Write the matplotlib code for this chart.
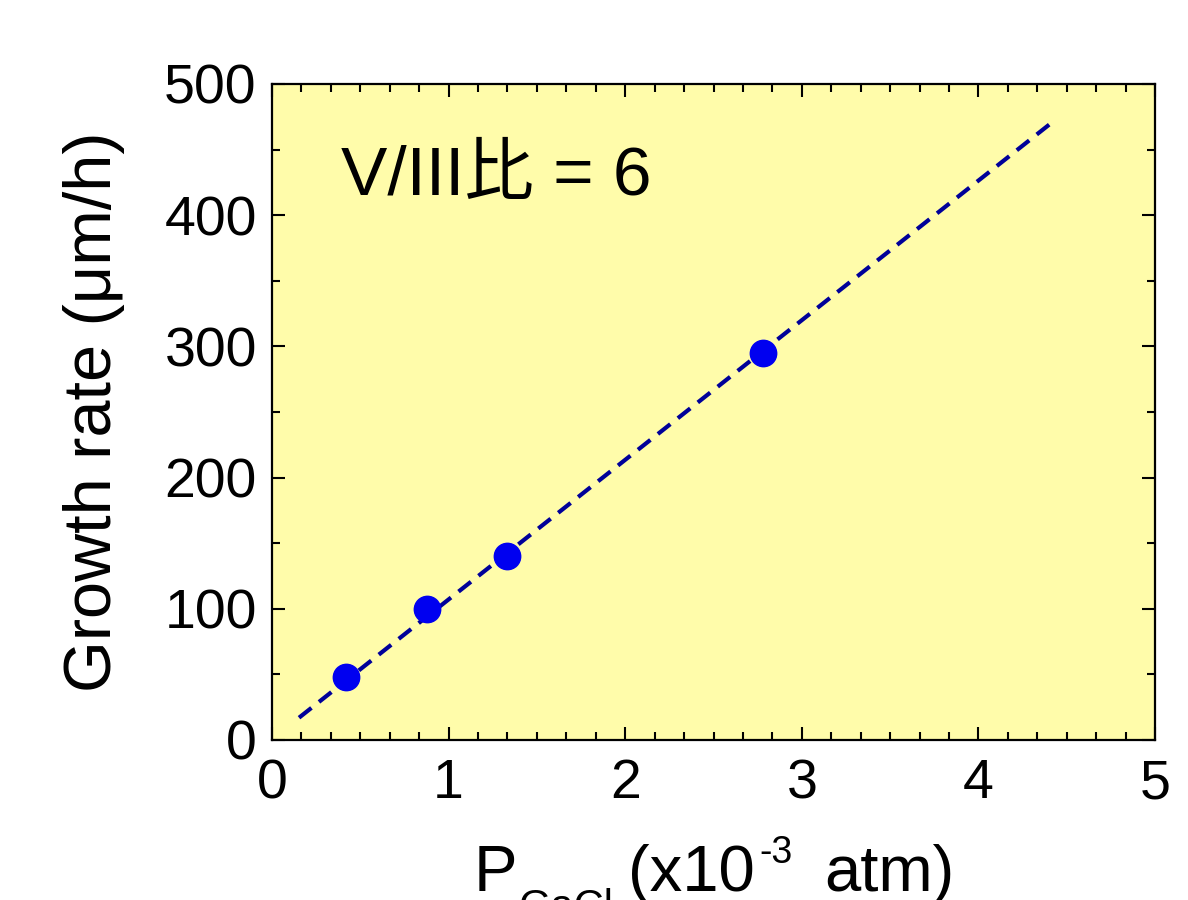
import matplotlib
matplotlib.use("Agg")
import matplotlib.pyplot as plt
from matplotlib.ticker import MultipleLocator

# data
p_gacl = [0.42, 0.88, 1.33, 2.78]
growth_rate = [48, 100, 140, 295]
fit_x = [0.153, 4.41]
fit_y = [17, 470]
x_ticks = [0, 1, 2, 3, 4, 5]
y_ticks = [0, 100, 200, 300, 400, 500]

plt.rcParams['font.family'] = ['Liberation Sans', 'Noto Sans CJK JP', 'DejaVu Sans']

W, H = 1188, 900
fig = plt.figure(figsize=(W / 100, H / 100), dpi=100)
ax = fig.add_axes([272 / W, 1 - 740 / H, (1155 - 272) / W, (740 - 84) / H])
ax.set_facecolor('#FFFCAA')

ax.plot(fit_x, fit_y, linestyle=(0, (3.8, 2.3)), color='#000099', linewidth=3.0, zorder=2)
ax.plot(p_gacl, growth_rate, 'o', color='#0000F0', markersize=19, zorder=3)

ax.set_xlim(0, 5)
ax.set_ylim(0, 500)
ax.set_xticks(x_ticks)
ax.set_yticks(y_ticks)
ax.xaxis.set_minor_locator(MultipleLocator(1 / 6))
ax.yaxis.set_minor_locator(MultipleLocator(50))
ax.tick_params(which='both', direction='in', top=True, right=True, width=1.5)
ax.tick_params(which='major', length=9.5)
ax.tick_params(which='minor', length=5.5)
ax.tick_params(axis='y', which='major', labelsize=40, pad=11)
ax.tick_params(axis='x', which='major', labelsize=40, pad=13)
for s in ax.spines.values():
    s.set_linewidth(1.6)

ax.set_ylabel('Growth rate (\u03bcm/h)', fontsize=48, labelpad=28)

# x-axis label built from pieces (subscript / superscript)
def ftext(px, py, s, size):
    fig.text(px / W, 1 - py / H, s, fontsize=size, ha='left', va='baseline')

ftext(474, 891, 'P', 47)
ftext(519, 919, 'GaCl', 30)
ftext(628, 891, '(x10', 47)
ftext(759, 863, '-3', 27)
ftext(824, 891, 'atm)', 47)

ax.text(341 / W, 1 - 195 / H, 'V/III比 = 6', transform=fig.transFigure,
        fontsize=50, ha='left', va='baseline')

fig.savefig('out.png', dpi=100)
